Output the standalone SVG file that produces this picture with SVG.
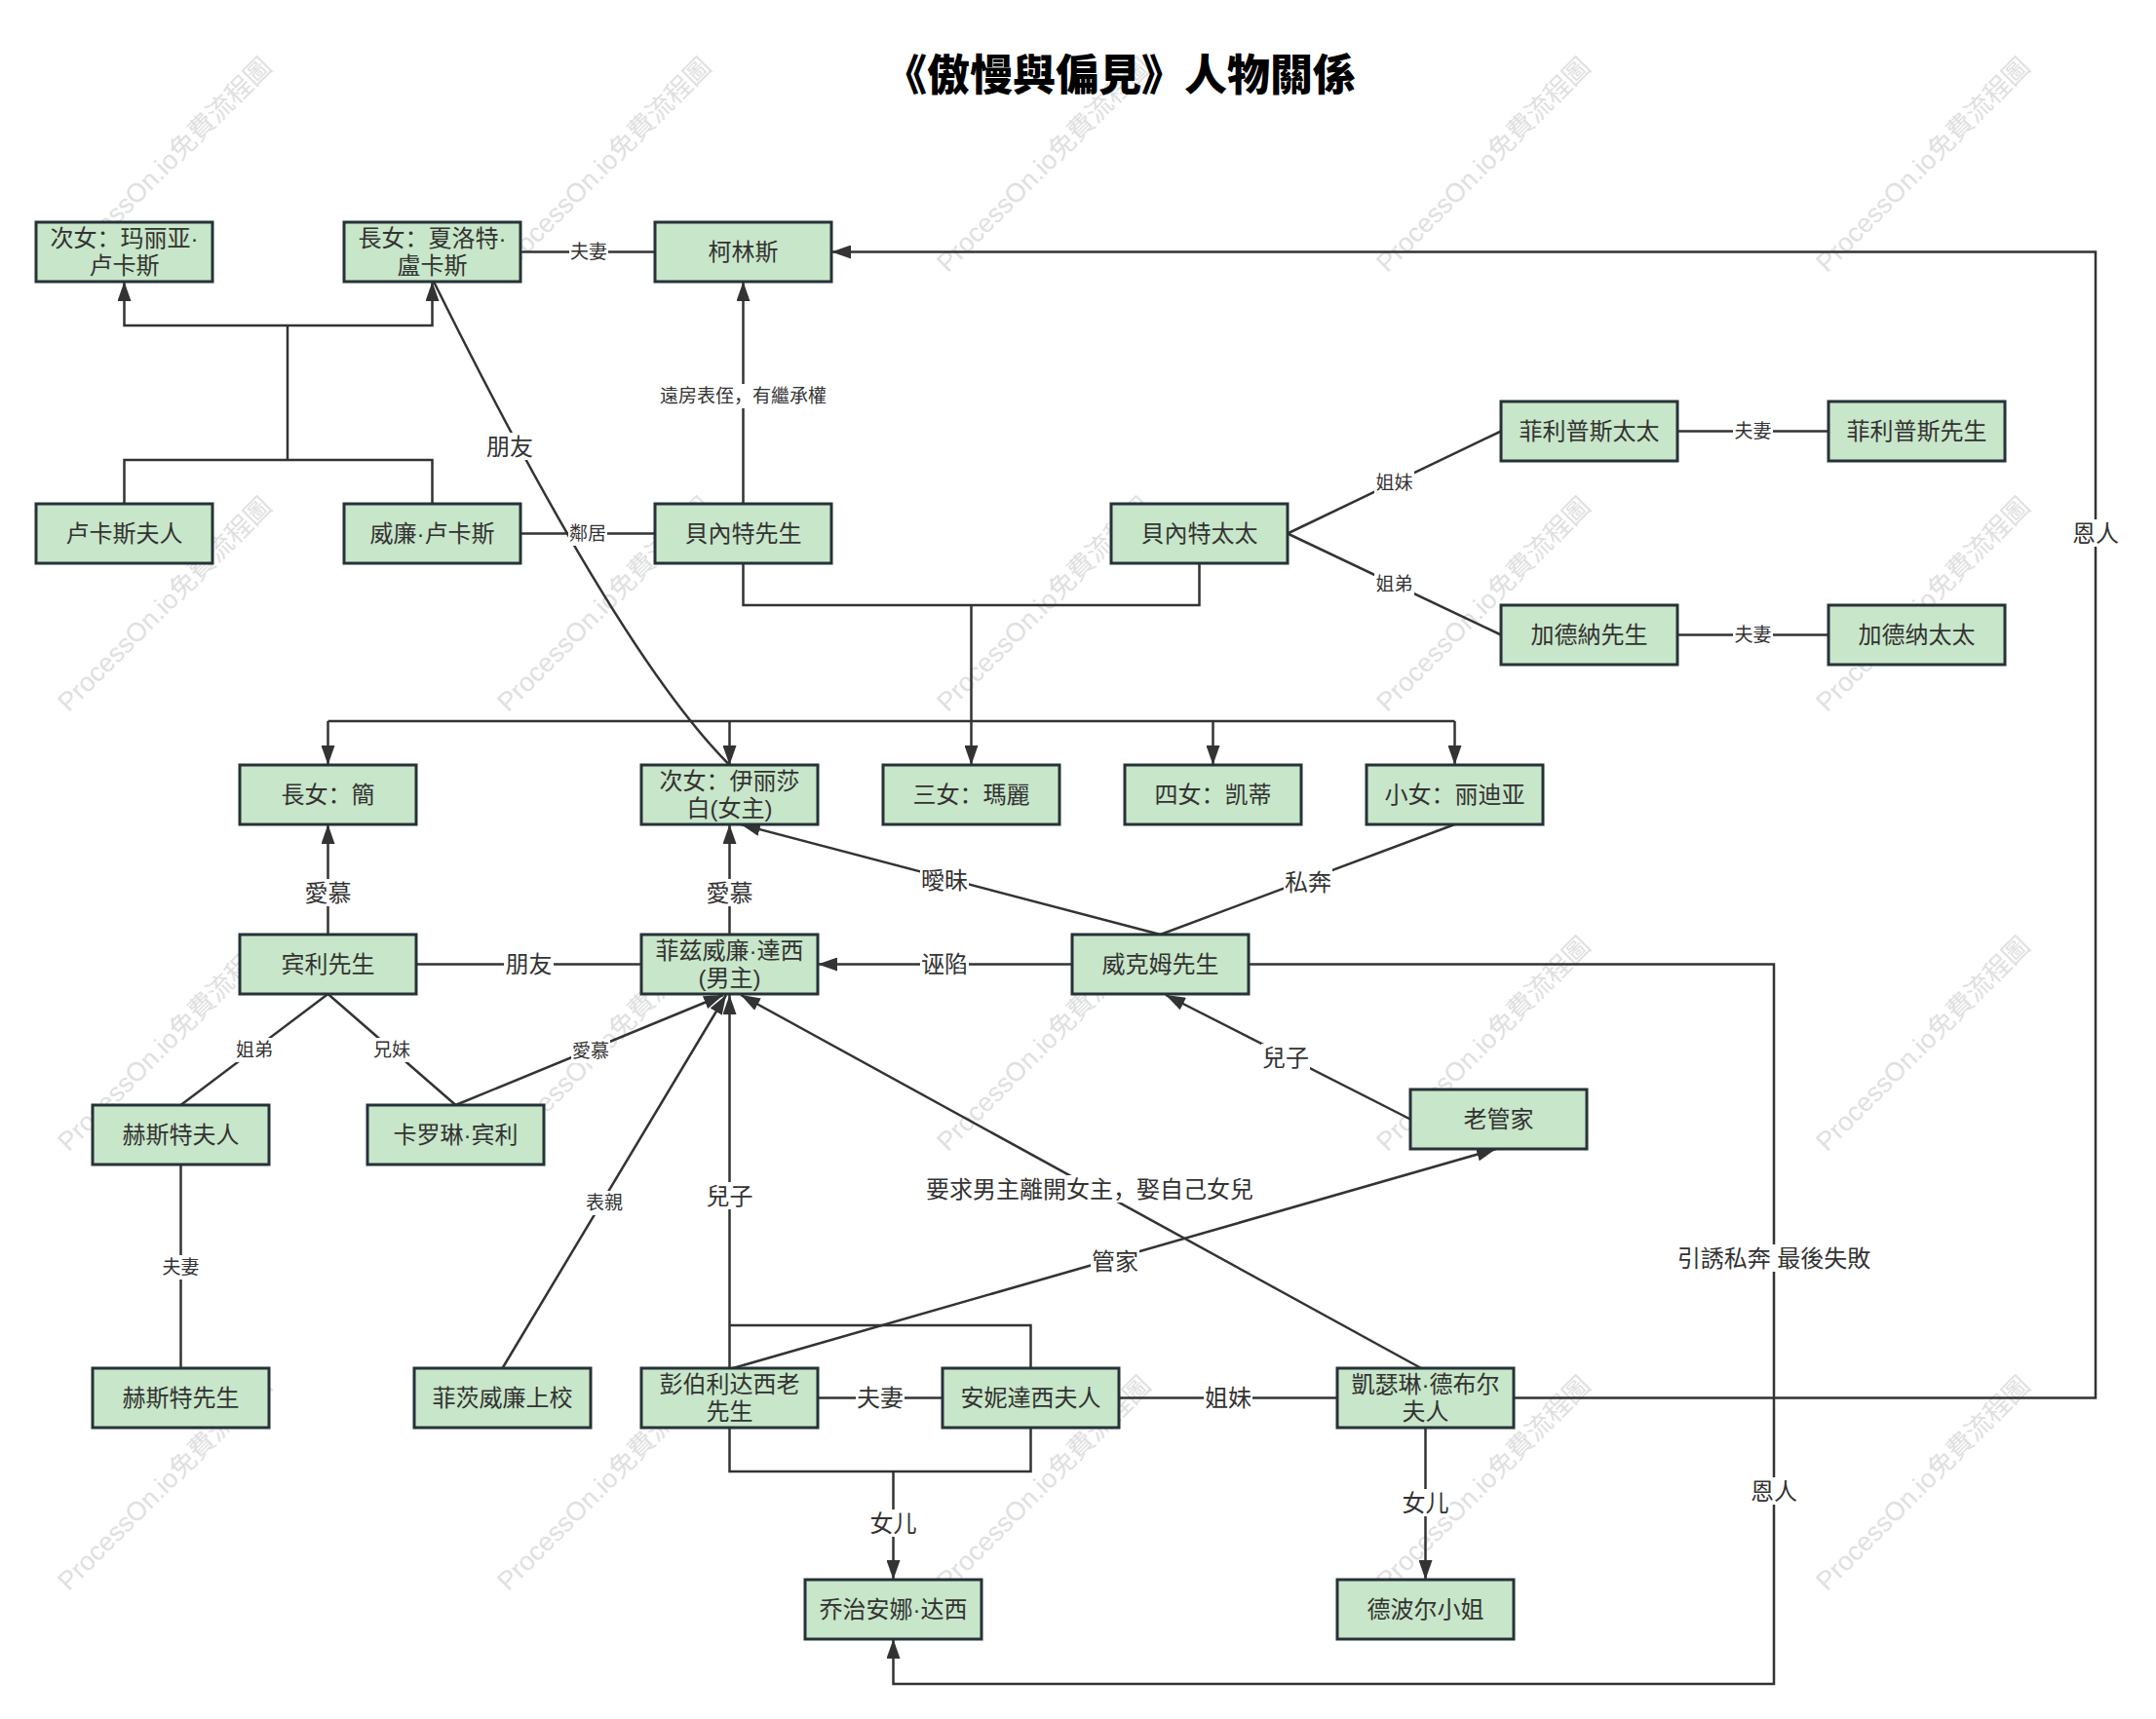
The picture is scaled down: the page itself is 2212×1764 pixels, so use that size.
<svg xmlns="http://www.w3.org/2000/svg" width="2212" height="1764" viewBox="0 0 2212 1764">
<defs>
<style>
text{font-family:"Liberation Sans","Noto Sans CJK SC",sans-serif;text-anchor:middle;dominant-baseline:central;fill:#333}
.node rect{fill:#c8e6c9;stroke:#263238;stroke-width:3}
.node text{font-size:24px}
.conn path{fill:none;stroke:#333;stroke-width:2.5}
.conn .a{marker-end:url(#arr)}
.lbl rect{fill:#fff}
.lbl text{font-size:24px}
.lbl .s{font-size:19px}
.wm text{font-size:27px;fill:#e0e0e0}
.title{font-family:"Noto Sans CJK TC","Noto Sans CJK SC",sans-serif;font-size:44px;font-weight:900;fill:#000}
</style>
<marker id="arr" viewBox="0 0 20 14" refX="20" refY="7" markerWidth="20" markerHeight="14" markerUnits="userSpaceOnUse" orient="auto"><path d="M0,0 L20,7 L0,14 z" fill="#333"/></marker>
</defs>
<rect x="0" y="0" width="2212" height="1764" fill="#fff"/>
<g class="wm">
<text transform="translate(169,169) rotate(-45)">ProcessOn.io免費流程圖</text>
<text transform="translate(620,169) rotate(-45)">ProcessOn.io免費流程圖</text>
<text transform="translate(1071,169) rotate(-45)">ProcessOn.io免費流程圖</text>
<text transform="translate(1522,169) rotate(-45)">ProcessOn.io免費流程圖</text>
<text transform="translate(1973,169) rotate(-45)">ProcessOn.io免費流程圖</text>
<text transform="translate(169,620) rotate(-45)">ProcessOn.io免費流程圖</text>
<text transform="translate(620,620) rotate(-45)">ProcessOn.io免費流程圖</text>
<text transform="translate(1071,620) rotate(-45)">ProcessOn.io免費流程圖</text>
<text transform="translate(1522,620) rotate(-45)">ProcessOn.io免費流程圖</text>
<text transform="translate(1973,620) rotate(-45)">ProcessOn.io免費流程圖</text>
<text transform="translate(169,1071) rotate(-45)">ProcessOn.io免費流程圖</text>
<text transform="translate(620,1071) rotate(-45)">ProcessOn.io免費流程圖</text>
<text transform="translate(1071,1071) rotate(-45)">ProcessOn.io免費流程圖</text>
<text transform="translate(1522,1071) rotate(-45)">ProcessOn.io免費流程圖</text>
<text transform="translate(1973,1071) rotate(-45)">ProcessOn.io免費流程圖</text>
<text transform="translate(169,1522) rotate(-45)">ProcessOn.io免費流程圖</text>
<text transform="translate(620,1522) rotate(-45)">ProcessOn.io免費流程圖</text>
<text transform="translate(1071,1522) rotate(-45)">ProcessOn.io免費流程圖</text>
<text transform="translate(1522,1522) rotate(-45)">ProcessOn.io免費流程圖</text>
<text transform="translate(1973,1522) rotate(-45)">ProcessOn.io免費流程圖</text>
</g>
<text class="title" x="1149" y="74">《傲慢與偏見》人物關係</text>
<g id="connectors" class="conn">
<path d="M127.5,517 V472 H443.5 V517"/>
<path d="M295,472 V334"/>
<path class="a" d="M295,334 H127.5 V289"/>
<path class="a" d="M295,334 H443.5 V289"/>
<path d="M534,258.5 H672"/>
<path class="a" d="M762.5,517 V289"/>
<path d="M534,547.5 H672"/>
<path d="M748.5,785 C640,677 505,410 445,289"/>
<path d="M762.5,578 V621 H1230.5 V578"/>
<path d="M996.5,621 V740"/>
<path d="M336.5,740 H1492.5"/>
<path class="a" d="M336.5,740 V785"/>
<path class="a" d="M748.5,740 V785"/>
<path class="a" d="M996.5,740 V785"/>
<path class="a" d="M1244.5,740 V785"/>
<path class="a" d="M1492.5,740 V785"/>
<path d="M1321,547.5 L1540,442.5"/>
<path d="M1321,547.5 L1540,651.5"/>
<path d="M1721,442.5 H1876"/>
<path d="M1721,651.5 H1876"/>
<path class="a" d="M336.5,959 V846"/>
<path class="a" d="M748.5,959 V846"/>
<path d="M427,989.5 H658"/>
<path class="a" d="M1100,989.5 H839"/>
<path class="a" d="M1190.5,959 L760,846"/>
<path d="M1492.5,846 L1190.5,959"/>
<path class="a" d="M1447,1148.5 L1196,1021"/>
<path d="M336.5,1020 L185.5,1134"/>
<path d="M336.5,1020 L467.5,1134"/>
<path class="a" d="M467.5,1134 L742,1021"/>
<path d="M185.5,1195 V1404"/>
<path class="a" d="M515.5,1404 L745,1021"/>
<path class="a" d="M748.5,1404 V1021"/>
<path d="M1057.5,1404 V1360 H748.5"/>
<path d="M748.5,1465 V1510 H1057.5 V1465"/>
<path class="a" d="M916.5,1510 V1621"/>
<path class="a" d="M752,1404 L1535,1179"/>
<path class="a" d="M1458,1404 L760,1021"/>
<path d="M839,1434.5 H967"/>
<path d="M1148,1434.5 H1372"/>
<path class="a" d="M1462.5,1465 V1621"/>
<path class="a" d="M1553,1434.5 H2150 V258.5 H853"/>
<path class="a" d="M1281,989.5 H1820 V1728 H916.5 V1682"/>
</g>
<g id="labels" class="lbl">
<rect x="584" y="246" width="40" height="25"/><text class="s" x="604" y="258.5">夫妻</text>
<rect x="676" y="394" width="173" height="25"/><text class="s" x="762.5" y="406">遠房表侄，有繼承權</text>
<rect x="583" y="535" width="40" height="25"/><text class="s" x="603" y="547.5">鄰居</text>
<rect x="1410" y="483" width="41" height="25"/><text class="s" x="1430.5" y="495">姐妹</text>
<rect x="1410" y="587" width="41" height="25"/><text class="s" x="1430.5" y="599.5">姐弟</text>
<rect x="1778" y="430" width="41" height="25"/><text class="s" x="1798.5" y="442.5">夫妻</text>
<rect x="1778" y="639" width="41" height="25"/><text class="s" x="1798.5" y="651.5">夫妻</text>
<rect x="241" y="1065" width="40" height="25"/><text class="s" x="261" y="1077">姐弟</text>
<rect x="382" y="1065" width="40" height="25"/><text class="s" x="402" y="1077">兄妹</text>
<rect x="586" y="1066" width="40" height="25"/><text class="s" x="606" y="1078">愛慕</text>
<rect x="600" y="1222" width="40" height="25"/><text class="s" x="620" y="1234">表親</text>
<rect x="165" y="1288" width="41" height="25"/><text class="s" x="185.5" y="1300">夫妻</text>
<rect x="498" y="444" width="50" height="28"/><text x="523" y="458">朋友</text>
<rect x="311" y="902" width="51" height="28"/><text x="336.5" y="916">愛慕</text>
<rect x="723" y="902" width="51" height="28"/><text x="748.5" y="916">愛慕</text>
<rect x="517" y="975" width="51" height="28"/><text x="542.5" y="989.5">朋友</text>
<rect x="944" y="975" width="50" height="28"/><text x="969" y="989.5">诬陷</text>
<rect x="944" y="889" width="50" height="28"/><text x="969" y="903">曖昧</text>
<rect x="1317" y="891" width="50" height="28"/><text x="1342" y="905">私奔</text>
<rect x="1294" y="1071" width="50" height="28"/><text x="1319" y="1085">兒子</text>
<rect x="723" y="1213" width="51" height="28"/><text x="748.5" y="1227">兒子</text>
<rect x="891" y="1549" width="51" height="28"/><text x="916.5" y="1563">女儿</text>
<rect x="1119" y="1280" width="50" height="28"/><text x="1144" y="1294">管家</text>
<rect x="948" y="1206" width="340" height="28"/><text x="1118" y="1220">要求男主離開女主，娶自己女兒</text>
<rect x="878" y="1420" width="50" height="28"/><text x="903" y="1434.5">夫妻</text>
<rect x="1235" y="1420" width="50" height="28"/><text x="1260" y="1434.5">姐妹</text>
<rect x="1437" y="1528" width="51" height="28"/><text x="1462.5" y="1542">女儿</text>
<rect x="2125" y="533" width="50" height="28"/><text x="2150" y="547">恩人</text>
<rect x="1719" y="1277" width="202" height="28"/><text x="1820" y="1291">引誘私奔 最後失敗</text>
<rect x="1795" y="1516" width="50" height="28"/><text x="1820" y="1530">恩人</text>
</g>
<g id="n1" class="node"><rect x="37" y="228" width="181" height="61"/><text x="127.5" y="244.5">次女：玛丽亚·</text><text x="127.5" y="272.5">卢卡斯</text></g>
<g id="n2" class="node"><rect x="353" y="228" width="181" height="61"/><text x="443.5" y="244.5">長女：夏洛特·</text><text x="443.5" y="272.5">盧卡斯</text></g>
<g id="n3" class="node"><rect x="672" y="228" width="181" height="61"/><text x="762.5" y="258.5">柯林斯</text></g>
<g id="n4" class="node"><rect x="37" y="517" width="181" height="61"/><text x="127.5" y="547.5">卢卡斯夫人</text></g>
<g id="n5" class="node"><rect x="353" y="517" width="181" height="61"/><text x="443.5" y="547.5">威廉·卢卡斯</text></g>
<g id="n6" class="node"><rect x="672" y="517" width="181" height="61"/><text x="762.5" y="547.5">貝內特先生</text></g>
<g id="n7" class="node"><rect x="1140" y="517" width="181" height="61"/><text x="1230.5" y="547.5">貝內特太太</text></g>
<g id="n8" class="node"><rect x="1540" y="412" width="181" height="61"/><text x="1630.5" y="442.5">菲利普斯太太</text></g>
<g id="n9" class="node"><rect x="1876" y="412" width="181" height="61"/><text x="1966.5" y="442.5">菲利普斯先生</text></g>
<g id="n10" class="node"><rect x="1540" y="621" width="181" height="61"/><text x="1630.5" y="651.5">加德納先生</text></g>
<g id="n11" class="node"><rect x="1876" y="621" width="181" height="61"/><text x="1966.5" y="651.5">加德纳太太</text></g>
<g id="n12" class="node"><rect x="246" y="785" width="181" height="61"/><text x="336.5" y="815.5">長女：簡</text></g>
<g id="n13" class="node"><rect x="658" y="785" width="181" height="61"/><text x="748.5" y="801.5">次女：伊丽莎</text><text x="748.5" y="829.5">白(女主)</text></g>
<g id="n14" class="node"><rect x="906" y="785" width="181" height="61"/><text x="996.5" y="815.5">三女：瑪麗</text></g>
<g id="n15" class="node"><rect x="1154" y="785" width="181" height="61"/><text x="1244.5" y="815.5">四女：凯蒂</text></g>
<g id="n16" class="node"><rect x="1402" y="785" width="181" height="61"/><text x="1492.5" y="815.5">小女：丽迪亚</text></g>
<g id="n17" class="node"><rect x="246" y="959" width="181" height="61"/><text x="336.5" y="989.5">宾利先生</text></g>
<g id="n18" class="node"><rect x="658" y="959" width="181" height="61"/><text x="748.5" y="975.5">菲兹威廉·達西</text><text x="748.5" y="1003.5">(男主)</text></g>
<g id="n19" class="node"><rect x="1100" y="959" width="181" height="61"/><text x="1190.5" y="989.5">威克姆先生</text></g>
<g id="n20" class="node"><rect x="95" y="1134" width="181" height="61"/><text x="185.5" y="1164.5">赫斯特夫人</text></g>
<g id="n21" class="node"><rect x="377" y="1134" width="181" height="61"/><text x="467.5" y="1164.5">卡罗琳·宾利</text></g>
<g id="n22" class="node"><rect x="1447" y="1118" width="181" height="61"/><text x="1537.5" y="1148.5">老管家</text></g>
<g id="n23" class="node"><rect x="95" y="1404" width="181" height="61"/><text x="185.5" y="1434.5">赫斯特先生</text></g>
<g id="n24" class="node"><rect x="425" y="1404" width="181" height="61"/><text x="515.5" y="1434.5">菲茨威廉上校</text></g>
<g id="n25" class="node"><rect x="658" y="1404" width="181" height="61"/><text x="748.5" y="1420.5">彭伯利达西老</text><text x="748.5" y="1448.5">先生</text></g>
<g id="n26" class="node"><rect x="967" y="1404" width="181" height="61"/><text x="1057.5" y="1434.5">安妮達西夫人</text></g>
<g id="n27" class="node"><rect x="1372" y="1404" width="181" height="61"/><text x="1462.5" y="1420.5">凱瑟琳·德布尔</text><text x="1462.5" y="1448.5">夫人</text></g>
<g id="n28" class="node"><rect x="826" y="1621" width="181" height="61"/><text x="916.5" y="1651.5">乔治安娜·达西</text></g>
<g id="n29" class="node"><rect x="1372" y="1621" width="181" height="61"/><text x="1462.5" y="1651.5">德波尔小姐</text></g>
</svg>
